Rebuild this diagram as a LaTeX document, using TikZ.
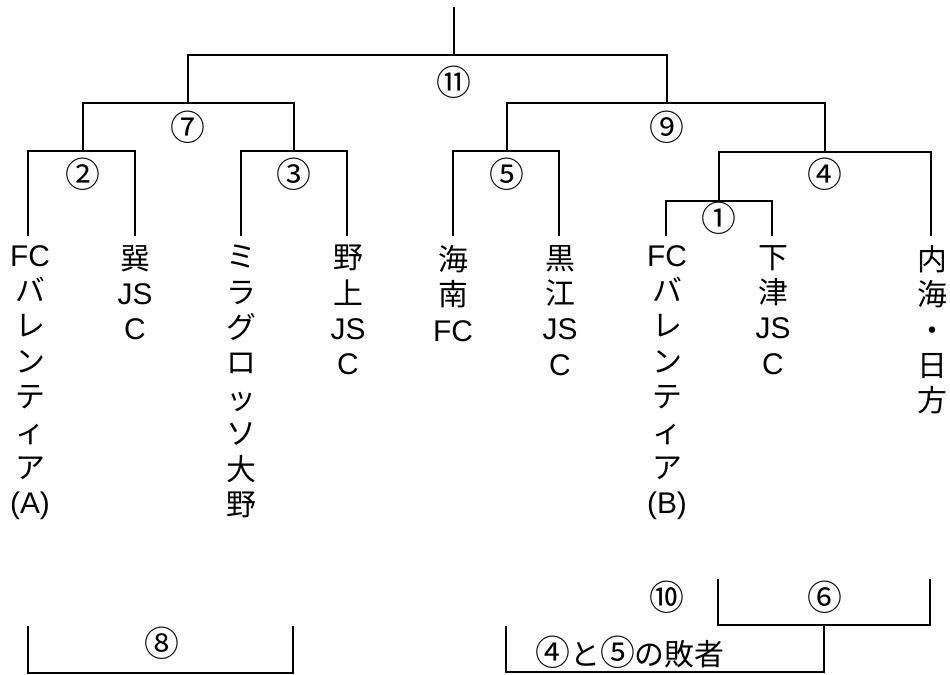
\documentclass[tikz,border=0pt]{standalone}
\usepackage{fontspec}
\newfontfamily\jp{Noto Sans CJK JP}
\newfontfamily\lat{Liberation Sans}
\newcommand{\cn}[1]{{\fontsize{35}{35}\selectfont #1}}
\newcommand{\la}[1]{{\lat\fontsize{30}{35.5}\selectfont #1}}
\begin{document}
\begin{tikzpicture}[x=1bp,y=-1bp,
  br/.style={line width=2.5bp,line cap=rect},
  team/.style={font=\jp\fontsize{30}{35.5}\selectfont,align=center,inner sep=0pt,anchor=north},
  num/.style={font=\jp\fontsize{35}{35}\selectfont,inner sep=0pt},
  lbl/.style={font=\jp\fontsize{30}{30}\selectfont,inner sep=0pt}]
\useasboundingbox (0,0) rectangle (950,675);
% leaf ends
\coordinate (j1) at (28,235);
\coordinate (j2) at (135,235);
\coordinate (j3) at (241,235);
\coordinate (j4) at (347,235);
\coordinate (j5) at (453,235);
\coordinate (j6) at (559,235);
\coordinate (j7) at (666,235);
\coordinate (j8) at (772,235);
\coordinate (j9) at (931,235);
% junctions
\coordinate (m1) at (719,201);
\coordinate (m2) at (83,151);
\coordinate (m3) at (294,151);
\coordinate (m5) at (507,151);
\coordinate (m4) at (825,152);
\coordinate (m7) at (188,103);
\coordinate (m9) at (667,103);
\coordinate (m11) at (454,55);
\coordinate (root) at (454,8);
% tree
\draw[br] (j7) -- (j7|-m1) -- (j8|-m1) -- (j8);
\draw[br] (j1) -- (j1|-m2) -- (j2|-m2) -- (j2);
\draw[br] (j3) -- (j3|-m3) -- (j4|-m3) -- (j4);
\draw[br] (j5) -- (j5|-m5) -- (j6|-m5) -- (j6);
\draw[br] (m1) -- (m1|-m4) -- (j9|-m4) -- (j9);
\draw[br] (m2) -- (m2|-m7) -- (m3|-m7) -- (m3);
\draw[br] (m5) -- (m5|-m9) -- (m4|-m9) -- (m4);
\draw[br] (m7) -- (m7|-m11) -- (m9|-m11) -- (m9);
\draw[br] (m11) -- (root);
% round numbers
\node[num] (n11) at (454,82) {⑪};
\node[num] (n7) at (188,127) {⑦};
\node[num] (n9) at (667,127) {⑨};
\node[num] (n2) at (83,174) {②};
\node[num] (n3) at (294,174) {③};
\node[num] (n5) at (507,174) {⑤};
\node[num] (n4) at (825,174) {④};
\node[num] (n1) at (719,218) {①};
% teams
\node[team] (t1) at (30,245) {\la{FC}\\バ\\レ\\ン\\テ\\ィ\\ア\\\la{(A)}};
\node[team] (t2) at (135,245) {巽\\\la{JS}\\\la{C}};
\node[team] (t3) at (241,245) {ミ\\ラ\\グ\\ロ\\ッ\\ソ\\大\\野};
\node[team] (t4) at (348,245) {野\\上\\\la{JS}\\\la{C}};
\node[team] (t5) at (453,245) {海\\南\\\la{FC}};
\node[team] (t6) at (560,245) {黒\\江\\\la{JS}\\\la{C}};
\node[team] (t7) at (667,245) {\la{FC}\\バ\\レ\\ン\\テ\\ィ\\ア\\\la{(B)}};
\node[team] (t8) at (773,245) {下\\津\\\la{JS}\\\la{C}};
\node[team] (t9) at (932,245) {内\\海\\・\\日\\方};
% bottom brackets
\coordinate (b8a) at (28,627);
\coordinate (b8b) at (293,673);
\draw[br] (b8a) -- (b8a|-b8b) -- (b8b) -- (b8b|-b8a);
\node[num] (n8) at (162,643) {⑧};
\coordinate (b6a) at (718,580);
\coordinate (b6b) at (930,625);
\coordinate (b6m) at (824,625);
\draw[br] (b6a) -- (b6a|-b6b) -- (b6b) -- (b6b|-b6a);
\node[num] (n6) at (825,597) {⑥};
\coordinate (b10a) at (506,627);
\coordinate (b10b) at (824,672);
\draw[br] (b10a) -- (b10a|-b10b) -- (b10b) -- (b6m);
\node[num] (n10) at (667,597) {⑩};
\node[lbl] (loser) at (630,652) {\cn{④}と\cn{⑤}の敗者};
\end{tikzpicture}
\end{document}
